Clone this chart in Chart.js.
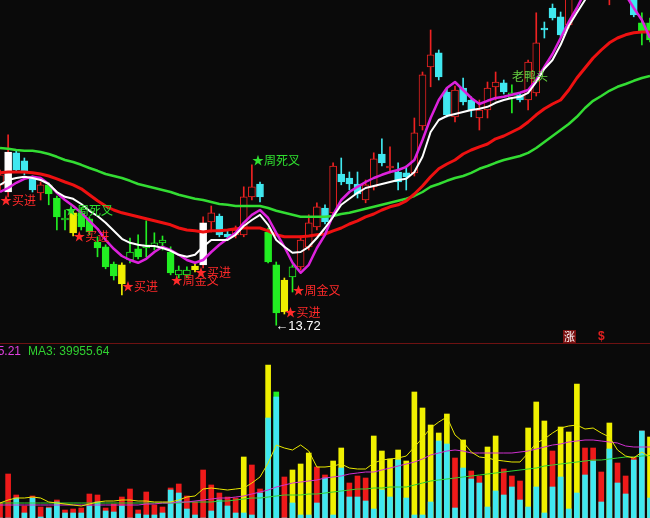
<!DOCTYPE html>
<html>
<head>
<meta charset="utf-8">
<script src="https://cdn.jsdelivr.net/npm/chart.js@4/dist/chart.umd.min.js"></script>
<style>
body { margin: 0; background: #0a0a0a; width: 650px; height: 518px; overflow: hidden; position: relative; }
#priceChart { position: absolute; left: 0; top: 0; }
#volChart { position: absolute; left: 0; top: 344px; }
#sep { position: absolute; left: 0; top: 343px; width: 650px; height: 1px; background: #6e1212; }
.t { position: absolute; white-space: nowrap; font: 12px "Liberation Sans", Arial, sans-serif; line-height: 12px; }
#zhang { position: absolute; left: 563px; top: 330px; width: 13px; height: 13px; background: #7a1010; color: #fff;
         font: 11px "Noto Sans CJK SC"; line-height: 13px; text-align: center; }
#dollar { position: absolute; left: 598px; top: 329px; color: #e02020; font: bold 12px "Liberation Sans"; }
</style>
</head>
<body>
<canvas id="priceChart" width="650" height="343"></canvas>
<div id="sep"></div>
<canvas id="volChart" width="650" height="174"></canvas>
<div id="zhang">涨</div>
<div id="dollar">$</div>
<div class="t" id="ma2Text" style="right:629px; top:345px; color:#e040e0;"></div>
<div class="t" id="ma3Text" style="left:28px; top:345px; color:#30d030;"></div>
<script>
// candle kinds: r = red hollow, c = cyan, g = green, G = green hollow, y = yellow, w = white
var kind = ['r','w','c','c','c','r','g','g','G','y',
            'g','g','g','g','g','y','G','g','G','G',
            'G','g','G','G','y','w','r','c','c','r',
            'r','r','c','g','g','y','G','r','r','r',
            'c','r','c','c','c','r','r','c','r','c',
            'c','r','r','r','c','c','r','c','c','r',
            'r','r','c','G','c','r','r','c','c','c',
            'r','r','r','c','r','r','c','c','c','g',
            'g'];

var open = [17.23, 17.05, 18.03, 17.83, 17.40, 17.03, 17.23, 16.90, 16.35, 16.53,
            16.53, 16.38, 15.80, 15.68, 15.25, 15.23, 15.35, 15.63, 15.65, 15.68,
            15.78, 15.55, 14.98, 14.98, 15.20, 15.23, 16.30, 16.45, 16.00, 15.98,
            15.98, 16.93, 17.25, 16.05, 15.23, 14.85, 14.93, 15.18, 15.68, 16.18,
            16.65, 16.53, 17.50, 17.40, 17.25, 16.85, 17.18, 18.00, 17.65, 17.55,
            17.53, 17.53, 18.70, 20.18, 20.53, 19.55, 18.93, 19.65, 19.35, 18.90,
            19.10, 19.68, 19.78, 19.40, 19.48, 19.35, 19.53, 21.15, 21.65, 21.43,
            21.23, 22.35, 22.60, 23.23, 23.10, 22.35, 22.73, 22.48, 21.98, 21.28,
            21.28];
var high = [17.60, 18.48, 18.10, 17.90, 17.45, 17.30, 17.28, 16.95, 16.60, 16.58,
            16.65, 16.43, 15.93, 15.73, 15.30, 15.28, 15.90, 15.98, 16.33, 16.03,
            15.95, 15.68, 15.20, 15.18, 15.25, 16.43, 16.70, 16.50, 16.08, 16.20,
            17.18, 17.73, 17.30, 16.15, 15.30, 14.90, 15.23, 15.95, 16.48, 16.78,
            16.73, 17.78, 17.90, 17.55, 17.55, 17.35, 18.03, 18.38, 18.18, 17.78,
            17.70, 18.90, 20.05, 21.10, 20.60, 19.65, 19.70, 19.90, 19.43, 19.35,
            19.80, 20.05, 19.85, 19.73, 19.53, 20.35, 21.53, 21.30, 21.75, 21.55,
            22.85, 23.35, 23.60, 23.73, 23.98, 23.60, 23.35, 22.98, 22.35, 21.53,
            21.40];
var low = [17.10, 16.93, 17.55, 17.48, 17.05, 16.85, 16.73, 16.10, 16.10, 15.95,
           16.10, 15.98, 15.43, 15.13, 14.85, 14.48, 15.28, 15.38, 15.43, 15.60,
           15.60, 14.98, 14.90, 14.90, 15.05, 15.15, 16.05, 15.93, 15.85, 15.90,
           15.93, 16.85, 16.80, 15.28, 13.72, 14.00, 14.55, 15.10, 15.60, 16.10,
           16.25, 16.48, 17.23, 17.10, 16.90, 16.78, 17.10, 17.70, 17.53, 17.10,
           17.10, 17.45, 18.60, 19.68, 19.85, 18.93, 18.80, 19.23, 18.93, 18.60,
           18.90, 19.35, 19.50, 19.03, 19.30, 19.10, 19.45, 20.90, 21.35, 20.93,
           21.15, 22.23, 22.48, 22.60, 22.85, 21.73, 22.35, 22.10, 21.43, 20.73,
           20.80];
var close = [17.48, 18.05, 17.60, 17.53, 17.10, 17.23, 17.00, 16.43, 16.40, 16.03,
             16.18, 16.05, 15.65, 15.18, 14.95, 14.75, 15.55, 15.43, 15.73, 15.78,
             15.85, 15.03, 15.10, 15.10, 15.10, 16.28, 16.53, 15.98, 15.93, 16.10,
             16.93, 17.18, 16.93, 15.30, 14.03, 14.05, 15.18, 15.85, 16.28, 16.68,
             16.30, 17.70, 17.30, 17.25, 17.00, 17.23, 17.88, 17.78, 17.70, 17.30,
             17.43, 18.53, 19.98, 20.48, 19.93, 18.98, 19.60, 19.30, 19.10, 19.10,
             19.65, 19.80, 19.55, 19.53, 19.35, 20.30, 20.78, 21.10, 21.40, 20.98,
             22.23, 23.10, 23.35, 22.73, 23.73, 23.10, 22.48, 22.23, 21.48, 21.05,
             20.85];

// price moving averages
var maWhite = [17.23, 17.35, 17.40, 17.43, 17.40, 17.35, 17.25, 17.05, 16.93, 16.88,
               16.75, 16.58, 16.45, 16.28, 16.08, 15.88, 15.78, 15.73, 15.70, 15.70,
               15.65, 15.58, 15.48, 15.43, 15.48, 15.68, 15.85, 15.85, 15.85, 15.98,
               16.20, 16.35, 16.48, 16.23, 15.85, 15.68, 15.53, 15.55, 15.68, 15.90,
               16.15, 16.43, 16.73, 16.88, 17.03, 17.15, 17.20, 17.25, 17.30, 17.35,
               17.38, 17.55, 17.93, 18.55, 18.85, 18.95, 19.00, 19.05, 19.10, 19.13,
               19.18, 19.28, 19.35, 19.40, 19.43, 19.53, 19.80, 20.13, 20.35, 20.73,
               21.20, 21.53, 21.85, 22.23, 22.60, 22.85, 22.98, 22.98, 22.85, 22.60,
               22.35];
var maMagenta = [17.05, 17.15, 17.28, 17.38, 17.43, 17.40, 17.25, 17.03, 16.85, 16.70,
                 16.53, 16.33, 16.13, 15.85, 15.63, 15.45, 15.35, 15.28, 15.38, 15.55,
                 15.68, 15.60, 15.48, 15.35, 15.28, 15.35, 15.55, 15.73, 15.88, 16.03,
                 16.28, 16.48, 16.60, 16.40, 16.03, 15.68, 15.28, 15.03, 15.23, 15.65,
                 15.98, 16.48, 16.85, 17.05, 17.18, 17.30, 17.40, 17.48, 17.55, 17.60,
                 17.68, 17.85, 18.35, 18.90, 19.35, 19.65, 19.80, 19.60, 19.40, 19.25,
                 19.33, 19.40, 19.43, 19.48, 19.53, 19.60, 19.85, 20.18, 20.50, 20.90,
                 21.30, 21.65, 22.05, 22.48, 22.73, 22.85, 22.60, 21.98, 21.65, 21.35,
                 20.90];
var maRed = [17.53, 17.55, 17.55, 17.55, 17.53, 17.50, 17.45, 17.38, 17.30, 17.23,
             17.13, 16.98, 16.83, 16.70, 16.60, 16.53, 16.48, 16.43, 16.38, 16.33,
             16.28, 16.23, 16.15, 16.10, 16.08, 16.05, 16.08, 16.08, 16.10, 16.13,
             16.15, 16.15, 16.15, 16.08, 15.98, 15.93, 15.93, 15.93, 15.95, 15.98,
             16.00, 16.08, 16.15, 16.25, 16.33, 16.43, 16.50, 16.60, 16.68, 16.73,
             16.83, 17.00, 17.20, 17.43, 17.63, 17.75, 17.85, 18.00, 18.10, 18.18,
             18.25, 18.38, 18.45, 18.55, 18.65, 18.80, 18.98, 19.13, 19.25, 19.35,
             19.60, 19.90, 20.15, 20.40, 20.60, 20.78, 20.90, 20.98, 21.03, 21.05,
             21.05];
var maGreen = [18.15, 18.13, 18.10, 18.08, 18.08, 18.05, 18.00, 17.93, 17.85, 17.80,
               17.73, 17.65, 17.58, 17.50, 17.45, 17.40, 17.33, 17.25, 17.20, 17.15,
               17.10, 17.05, 16.98, 16.93, 16.88, 16.85, 16.80, 16.75, 16.73, 16.70,
               16.70, 16.70, 16.70, 16.65, 16.58, 16.53, 16.48, 16.43, 16.43, 16.43,
               16.43, 16.45, 16.50, 16.53, 16.58, 16.63, 16.68, 16.73, 16.78, 16.83,
               16.88, 16.95, 17.05, 17.18, 17.25, 17.33, 17.40, 17.45, 17.53, 17.63,
               17.70, 17.78, 17.85, 17.90, 17.95, 18.03, 18.15, 18.30, 18.45, 18.60,
               18.75, 18.93, 19.15, 19.33, 19.45, 19.58, 19.68, 19.75, 19.83, 19.90,
               19.95];

// volume: total bar, inner cyan part, colour of total bar
var volume = [9600, 28160, 14720, 7680, 14080, 7040, 7040, 11520, 5120, 5760,
              6400, 15360, 14720, 6400, 8960, 13440, 18560, 5120, 16640, 8320,
              7040, 19200, 21760, 14080, 10240, 30720, 21120, 16000, 13440, 12800,
              39040, 33920, 18560, 97920, 80640, 26240, 30720, 34560, 41600, 32640,
              27520, 36480, 44800, 22400, 26880, 25600, 52480, 42880, 37760, 43520,
              36480, 80640, 70400, 59520, 54400, 66560, 38400, 49920, 30080, 26880,
              45440, 52480, 31360, 26880, 23680, 57600, 74240, 62080, 42880, 58240,
              55040, 85760, 44800, 44800, 29440, 60800, 35200, 26880, 39040, 55680,
              51840];
var volInner = [0, 0, 12800, 3200, 12800, 640, 6400, 10240, 3200, 3200,
                3200, 7680, 10240, 4480, 3840, 7680, 0, 2560, 1920, 1920,
                3200, 17920, 16000, 5760, 1920, 0, 4480, 11520, 7680, 3200,
                3200, 1920, 16000, 64000, 77440, 0, 9600, 1920, 1920, 9600,
                25600, 1920, 32000, 13440, 13440, 10880, 5760, 17920, 13440, 37120,
                12800, 1920, 1920, 10240, 49280, 47360, 6400, 32000, 24960, 22400,
                7040, 17280, 14720, 19840, 11520, 7040, 19840, 3200, 19840, 26240,
                5760, 16000, 27520, 36480, 10240, 44160, 22400, 15360, 37120, 55680,
                12800];
var volKind = ['r','r','r','r','r','r','r','r','r','r',
               'r','r','r','r','r','r','r','r','r','r',
               'r','r','r','r','r','r','r','r','r','r',
               'y','r','r','y','g','r','y','y','y','r',
               'r','y','y','r','r','r','y','y','y','y',
               'y','y','y','y','y','y','r','y','r','r',
               'y','y','r','r','r','y','y','y','r','y',
               'y','y','r','r','r','y','r','r','r','r',
               'y'];
var volMa1 = [9600, 11520, 12800, 12800, 13440, 12800, 10240, 9600, 8960, 8320,
              7680, 8960, 10240, 10880, 10880, 11520, 11520, 10880, 10880, 10240,
              10240, 10240, 11520, 13440, 14080, 18560, 19200, 18560, 17920, 18560,
              19200, 22400, 26240, 35200, 46720, 44800, 43520, 46720, 42880, 32640,
              32640, 33280, 34560, 32000, 31360, 31360, 35200, 37120, 37760, 38400,
              39680, 45440, 51200, 57600, 61440, 64640, 53120, 48640, 42240, 39040,
              38400, 37120, 36480, 35840, 35840, 41600, 48000, 50560, 54400, 57600,
              58880, 59520, 56960, 57600, 54400, 51840, 43520, 39680, 38400, 42240,
              39040];
var volMa2 = [8320, 8320, 8320, 8320, 8320, 8320, 8320, 8320, 8320, 8320,
              8320, 8320, 8320, 8320, 8320, 8320, 8320, 8320, 8960, 8960,
              9600, 9600, 10240, 10240, 10880, 11520, 12160, 12800, 12800, 13440,
              14080, 15360, 16640, 17920, 19840, 21120, 22400, 23040, 23680, 24320,
              25600, 26240, 26880, 28160, 28800, 29440, 29440, 30720, 32000, 33280,
              34560, 35840, 37760, 40320, 41600, 42880, 43520, 42880, 41600, 41600,
              41600, 41600, 41600, 41600, 42240, 42880, 44160, 45440, 46720, 47360,
              48640, 49280, 49920, 49920, 49280, 48640, 48000, 46080, 45440, 45440,
              45445.21];
var volMa3 = [9600, 9600, 9600, 9600, 9600, 9600, 9600, 9600, 9600, 9600,
              9600, 9600, 9600, 9600, 9600, 9600, 9600, 9600, 9600, 9600,
              9600, 9600, 9600, 10240, 10240, 10240, 10240, 10880, 10880, 11520,
              12160, 12800, 12800, 13440, 14080, 14720, 14720, 14720, 15360, 15360,
              16000, 16640, 17280, 17920, 18560, 18560, 19200, 19200, 19840, 19840,
              19840, 21120, 22400, 23680, 24320, 24960, 25600, 26240, 26880, 27520,
              28160, 28800, 29440, 30080, 30720, 31360, 32000, 33280, 33920, 34560,
              35200, 35840, 36480, 37120, 37120, 37760, 38400, 39040, 39040, 39680,
              39955.64];

// signal texts on the price chart
var signalIndex = [0, 8, 9, 15, 21, 24, 31, 36, 35, 63];
var signalPrice = [16.85, 16.60, 15.93, 14.68, 14.85, 15.03, 17.85, 14.60, 14.03, 19.93];
var signalText = ['★买进', '★周死叉', '★买进', '★买进', '★周金叉', '★买进', '★周死叉', '★周金叉', '★买进', '老鸭头'];
var signalColor = ['#ff2a2a', '#30e030', '#ff2a2a', '#ff2a2a', '#ff2a2a', '#ff2a2a', '#30e030', '#ff2a2a', '#ff2a2a', '#66d040'];

var BG = '#0a0a0a';
var kindColor = { r: '#ee2222', c: '#40e8f0', g: '#22ee22', G: '#22ee22', y: '#f0f000', w: '#ffffff' };
var volColor = { r: '#ee1a1a', y: '#f0f000', g: '#22ee22' };

var days = kind.map(function (k, i) { return 'D' + (i + 1); });

var signalPlugin = {
    id: 'signals',
    afterDatasetsDraw: function (chart) {
        var ctx = chart.ctx;
        var xs = chart.scales.x, ys = chart.scales.y;
        ctx.save();
        ctx.textBaseline = 'middle';
        ctx.textAlign = 'left';
        ctx.font = '12px "Noto Sans CJK SC"';
        for (var k = 0; k < signalText.length; k++) {
            ctx.fillStyle = signalColor[k];
            ctx.fillText(signalText[k], xs.getPixelForValue(signalIndex[k]), ys.getPixelForValue(signalPrice[k]));
        }
        // lowest low label
        var minIdx = 0;
        low.forEach(function (v, i) { if (v < low[minIdx]) minIdx = i; });
        ctx.font = '13px "Liberation Sans", "DejaVu Sans"';
        ctx.fillStyle = '#ffffff';
        ctx.fillText('←' + low[minIdx].toFixed(2), xs.getPixelForValue(minIdx) - 1, ys.getPixelForValue(low[minIdx]) + 1);
        ctx.restore();
    }
};

function drawPrice() {
    var lineOpts = { type: 'line', pointRadius: 0, tension: 0, fill: false, borderJoinStyle: 'round' };

    new Chart('priceChart', {
        type: 'bar',
        data: {
            labels: days,
            datasets: [
                Object.assign({ data: maWhite, borderColor: '#ffffff', borderWidth: 2, order: 1 }, lineOpts),
                Object.assign({ data: maMagenta, borderColor: '#dd22dd', borderWidth: 2.5, order: 2 }, lineOpts),
                Object.assign({ data: maRed, borderColor: '#ee1111', borderWidth: 3, order: 3 }, lineOpts),
                Object.assign({ data: maGreen, borderColor: '#33dd33', borderWidth: 2.5, order: 4 }, lineOpts),
                {
                    data: open.map(function (o, i) { return [o, close[i]]; }),
                    backgroundColor: kind.map(function (k) { return (k == 'r' || k == 'G') ? BG : kindColor[k]; }),
                    borderColor: kind.map(function (k) { return kindColor[k]; }),
                    borderWidth: 1,
                    borderSkipped: false,
                    barThickness: 7,
                    grouped: false,
                    order: 5
                },
                {
                    data: low.map(function (l, i) { return [l, high[i]]; }),
                    backgroundColor: kind.map(function (k) { return k == 'w' ? kindColor.r : kindColor[k]; }),
                    borderWidth: 0,
                    barThickness: 1,
                    grouped: false,
                    order: 6
                }
            ]
        },
        options: {
            responsive: false,
            animation: false,
            devicePixelRatio: 1,
            layout: { padding: 0 },
            plugins: { legend: { display: false }, tooltip: { enabled: false } },
            scales: {
                x: { type: 'category', offset: false, display: false, grid: { offset: false } },
                y: { min: 13.275, max: 21.85, display: false }
            }
        },
        plugins: [signalPlugin]
    });
}

function drawVolume() {
    var lineOpts = { type: 'line', pointRadius: 0, tension: 0, fill: false, borderWidth: 1 };

    new Chart('volChart', {
        type: 'bar',
        data: {
            labels: days,
            datasets: [
                Object.assign({ data: volMa1, borderColor: '#e8e800', order: 1 }, lineOpts),
                Object.assign({ data: volMa2, borderColor: '#d030d0', order: 2 }, lineOpts),
                Object.assign({ data: volMa3, borderColor: '#30d030', order: 3 }, lineOpts),
                { data: volInner, backgroundColor: '#40e8f0', barThickness: 5, grouped: false, order: 4 },
                {
                    data: volume,
                    backgroundColor: volKind.map(function (k) { return volColor[k]; }),
                    barThickness: 5,
                    grouped: false,
                    order: 5
                }
            ]
        },
        options: {
            responsive: false,
            animation: false,
            devicePixelRatio: 1,
            layout: { padding: 0 },
            plugins: { legend: { display: false }, tooltip: { enabled: false } },
            scales: {
                x: { type: 'category', offset: false, display: false, grid: { offset: false } },
                y: { min: 0, max: 111360, display: false }
            }
        }
    });

    document.getElementById('ma2Text').textContent = 'MA2: ' + volMa2[volMa2.length - 1].toFixed(2);
    document.getElementById('ma3Text').textContent = 'MA3: ' + volMa3[volMa3.length - 1].toFixed(2);
}

drawPrice();
drawVolume();
</script>
</body>
</html>
